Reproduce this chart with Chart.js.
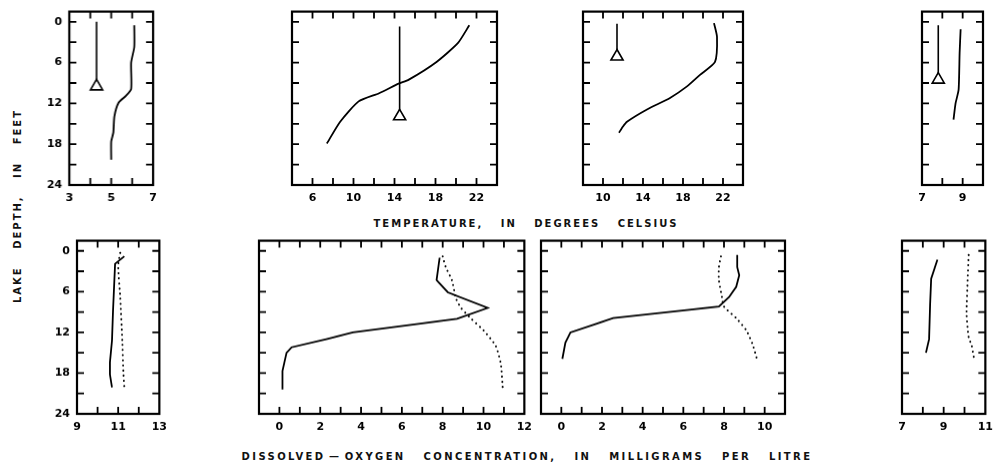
<!DOCTYPE html>
<html>
<head>
<meta charset="utf-8">
<script src="https://cdn.jsdelivr.net/npm/chart.js@4.4.0/dist/chart.umd.min.js"></script>
<style>
  body { margin: 0; background: #fff; width: 995px; height: 468px; position: relative; overflow: hidden; }
  .panel { position: absolute; }
  .title { position: absolute; font: bold 10px "DejaVu Sans", sans-serif; color: #111; white-space: nowrap;
           letter-spacing: 2px; word-spacing: 12px; transform: translate(-50%, -50%); }
</style>
</head>
<body>
<div class="title" style="left:526px; top:223px;">TEMPERATURE, IN DEGREES CELSIUS</div>
<div class="title" style="left:527px; top:456px; letter-spacing:2.4px;">DISSOLVED&#8202;&#8212;&#8202;OXYGEN CONCENTRATION, IN MILLIGRAMS PER LITRE</div>
<div class="title" style="left:17px; top:206px; transform: translate(-50%, -50%) rotate(-90deg);">LAKE DEPTH, IN FEET</div>

<script>
// Water temperature profiles, degrees Celsius (top row)
const depthT1 = [0.5, 3.7, 6.0, 9.9, 10.9, 11.9, 13.9, 16.3, 17.6, 20.3];
const tempT1  = [6.1, 6.1, 5.95, 5.95, 5.7, 5.35, 5.15, 5.1, 5.0, 5.0];
const depthT2 = [0.5, 3.1, 5.9, 8.5, 9.1, 10.5, 11.7, 14.7, 17.9];
const tempT2  = [21.3, 20.2, 18.1, 15.4, 14.4, 12.5, 10.5, 8.7, 7.4];
const depthT3 = [0.2, 2.2, 5.9, 7.8, 9.5, 11.2, 12.9, 14.7, 15.4, 16.3];
const tempT3  = [21.1, 21.4, 21.2, 19.7, 18.4, 16.7, 14.4, 12.4, 12.0, 11.6];
const depthT4 = [1.1, 4.6, 10.0, 12.0, 14.4];
const tempT4  = [8.9, 8.85, 8.8, 8.65, 8.55];

// Secchi-disk line (triangle marker), drawn in temperature panels
const secchiX     = [4.3, 14.5, 11.4, 7.8];
const secchiTop   = [0, 0.7, 0.3, 0.5];
const secchiDepth = [9.5, 13.9, 5.1, 8.5];

// Dissolved oxygen, mg/L (solid) and saturation (dotted), bottom row
const depthO1 = [0.8, 1.9, 8.8, 13.2, 16.4, 18.2, 20.1];
const oxyO1   = [11.3, 10.85, 10.75, 10.7, 10.6, 10.6, 10.7];
const depthS1 = [0.3, 2.1, 6.8, 13.2, 17.7, 20.1];
const satS1   = [11.1, 11.0, 11.1, 11.2, 11.25, 11.3];

const depthO2 = [1.0, 4.3, 4.8, 6.1, 8.4, 10.0, 12.0, 13.0, 14.2, 15.0, 17.7, 20.4];
const oxyO2   = [7.85, 7.7, 7.85, 8.25, 10.2, 8.7, 3.6, 2.3, 0.6, 0.35, 0.15, 0.15];
const depthS2 = [0.8, 2.4, 4.3, 7.0, 8.4, 10.0, 11.7, 14.0, 16.7, 20.6];
const satS2   = [8.0, 8.15, 8.45, 8.65, 8.9, 9.4, 10.0, 10.6, 10.85, 10.95];

const depthO3 = [0.6, 2.4, 3.6, 5.3, 6.8, 8.2, 9.9, 10.7, 12.0, 13.5, 15.9];
const oxyO3   = [8.65, 8.65, 8.75, 8.6, 8.25, 7.75, 2.55, 1.75, 0.45, 0.2, 0.05];
const depthS3 = [0.8, 2.4, 4.3, 6.8, 8.2, 9.9, 11.7, 13.7, 16.2];
const satS3   = [7.85, 7.75, 7.75, 7.9, 8.0, 8.6, 9.1, 9.4, 9.65];

const depthO4 = [1.3, 4.1, 7.8, 13.0, 15.0];
const oxyO4   = [8.7, 8.4, 8.35, 8.3, 8.15];
const depthS4 = [0.6, 4.3, 9.3, 12.7, 14.0, 15.7];
const satS4   = [10.2, 10.15, 10.1, 10.2, 10.35, 10.45];

// Axis ticks
const depthTicks  = [0, 3, 6, 9, 12, 15, 18, 21, 24];
const depthLabels = [0, 6, 12, 18, 24];

const INK = '#000';
const FONT = { family: 'DejaVu Sans', size: 11, weight: 'bold' };

const pts = (xs, ys) => xs.map((v, i) => ({ x: v, y: ys[i] }));

// inward tick marks on all four sides + heavy frame
const frameTicks = {
  id: 'frameTicks',
  afterDatasetsDraw(chart) {
    const { ctx, chartArea: a, scales: { x, y } } = chart;
    const L = 7;
    ctx.save();
    ctx.strokeStyle = INK;
    ctx.lineWidth = 1.8;
    ctx.beginPath();
    x.ticks.forEach(t => {
      const p = x.getPixelForValue(t.value);
      if (p < a.left + 2 || p > a.right - 2) return;
      ctx.moveTo(p, a.top); ctx.lineTo(p, a.top + L);
      ctx.moveTo(p, a.bottom); ctx.lineTo(p, a.bottom - L);
    });
    y.ticks.forEach(t => {
      const p = y.getPixelForValue(t.value);
      if (p < a.top + 2 || p > a.bottom - 2) return;
      ctx.moveTo(a.left, p); ctx.lineTo(a.left + L, p);
      ctx.moveTo(a.right, p); ctx.lineTo(a.right - L, p);
    });
    ctx.stroke();
    ctx.lineWidth = 2.2;
    ctx.strokeRect(a.left, a.top, a.right - a.left, a.bottom - a.top);
    ctx.restore();
  }
};

const PAD_L = 40, PAD_T = 5, PAD_R = 5, PAD_B = 30;

function chartConfig(p) {
  const datasets = [];
  if (p.solid) datasets.push({
    data: p.solid, borderColor: INK, borderWidth: 1.8, pointRadius: 0, tension: p.tension,
  });
  if (p.dotted) datasets.push({
    data: p.dotted, borderColor: INK, borderWidth: 2, pointRadius: 0, tension: 0.2,
    borderDash: [0.1, 5], borderCapStyle: 'round',
  });
  if (p.secchi) datasets.push({
    data: p.secchi, borderColor: INK, borderWidth: 1.6,
    pointStyle: 'triangle', pointRadius: [0, 7], pointBorderWidth: 1.6,
    pointBorderColor: INK, pointBackgroundColor: '#fff',
  });
  return {
    type: 'line',
    data: { datasets },
    options: {
      responsive: false,
      maintainAspectRatio: false,
      animation: false,
      devicePixelRatio: 1,
      layout: { padding: { top: PAD_T, right: PAD_R, left: 0, bottom: 0 }, autoPadding: false },
      plugins: { legend: { display: false }, tooltip: { enabled: false } },
      scales: {
        x: {
          type: 'linear', min: p.xMin, max: p.xMax,
          grid: { display: false, drawTicks: false }, border: { display: false },
          afterBuildTicks: s => { s.ticks = p.xTicks.map(v => ({ value: v })); },
          afterFit: s => { s.height = PAD_B; },
          ticks: {
            padding: 7, color: INK, font: FONT, maxRotation: 0, autoSkip: false,
            callback: v => p.xLabels.includes(v) ? String(v) : '',
          },
        },
        y: {
          type: 'linear', reverse: true, min: -1.5, max: 24,
          grid: { display: false, drawTicks: false }, border: { display: false },
          afterBuildTicks: s => { s.ticks = depthTicks.map(v => ({ value: v })); },
          afterFit: s => { s.width = PAD_L; },
          ticks: {
            padding: 7, color: INK, font: FONT, autoSkip: false,
            callback: v => p.yLabels && depthLabels.includes(v) ? String(v) : '',
          },
        },
      },
    },
    plugins: [frameTicks],
  };
}

function makePanel(p) {
  const w = p.box[2] - p.box[0], h = p.box[3] - p.box[1];
  const div = document.createElement('div');
  div.className = 'panel';
  const cv = document.createElement('canvas');
  div.appendChild(cv);
  document.body.appendChild(div);

  let cw = w + PAD_L + PAD_R, ch = h + PAD_T + PAD_B;
  let chart;
  // lay out, then correct canvas size so the plot box lands where the figure has it
  for (let pass = 0; pass < 3; pass++) {
    cv.width = cw; cv.height = ch;
    cv.style.width = cw + 'px'; cv.style.height = ch + 'px';
    chart = new Chart(cv, chartConfig(p));
    const a = chart.chartArea;
    const dw = w - (a.right - a.left), dh = h - (a.bottom - a.top);
    div.style.left = (p.box[0] - a.left) + 'px';
    div.style.top = (p.box[1] - a.top) + 'px';
    if (Math.abs(dw) < 0.5 && Math.abs(dh) < 0.5) break;
    chart.destroy();
    cw += dw; ch += dh;
  }
}

const range = (a, b, s) => { const r = []; for (let v = a; v <= b + 1e-9; v += s) r.push(v); return r; };
const TOP = [11.5, 184.5], BOT = [240.6, 412.7];

const panels = [
  { box: [69, TOP[0], 152, TOP[1]], xMin: 3, xMax: 7, xTicks: range(3, 7, 1), xLabels: [3, 5, 7], yLabels: true, tension: 0.2,
    solid: pts(tempT1, depthT1), secchi: pts([secchiX[0], secchiX[0]], [secchiTop[0], secchiDepth[0]]) },
  { box: [292, TOP[0], 497, TOP[1]], xMin: 4, xMax: 24, xTicks: range(4, 24, 2), xLabels: [6, 10, 14, 18, 22], tension: 0.2,
    solid: pts(tempT2, depthT2), secchi: pts([secchiX[1], secchiX[1]], [secchiTop[1], secchiDepth[1]]) },
  { box: [583, TOP[0], 743, TOP[1]], xMin: 8, xMax: 24, xTicks: range(8, 24, 2), xLabels: [10, 14, 18, 22], tension: 0.2,
    solid: pts(tempT3, depthT3), secchi: pts([secchiX[2], secchiX[2]], [secchiTop[2], secchiDepth[2]]) },
  { box: [922, TOP[0], 983, TOP[1]], xMin: 7, xMax: 10, xTicks: range(7, 10, 1), xLabels: [7, 9], tension: 0.2,
    solid: pts(tempT4, depthT4), secchi: pts([secchiX[3], secchiX[3]], [secchiTop[3], secchiDepth[3]]) },
  { box: [77, BOT[0], 159, BOT[1]], xMin: 9, xMax: 13, xTicks: range(9, 13, 1), xLabels: [9, 11, 13], yLabels: true, tension: 0,
    solid: pts(oxyO1, depthO1), dotted: pts(satS1, depthS1) },
  { box: [259, BOT[0], 524, BOT[1]], xMin: -1, xMax: 12, xTicks: range(-1, 12, 1), xLabels: [0, 2, 4, 6, 8, 10, 12], tension: 0,
    solid: pts(oxyO2, depthO2), dotted: pts(satS2, depthS2) },
  { box: [541, BOT[0], 785, BOT[1]], xMin: -1, xMax: 11, xTicks: range(-1, 11, 1), xLabels: [0, 2, 4, 6, 8, 10], tension: 0,
    solid: pts(oxyO3, depthO3), dotted: pts(satS3, depthS3) },
  { box: [902, BOT[0], 985, BOT[1]], xMin: 7, xMax: 11, xTicks: range(7, 11, 1), xLabels: [7, 9, 11], tension: 0,
    solid: pts(oxyO4, depthO4), dotted: pts(satS4, depthS4) },
];

panels.forEach(makePanel);
</script>
</body>
</html>
